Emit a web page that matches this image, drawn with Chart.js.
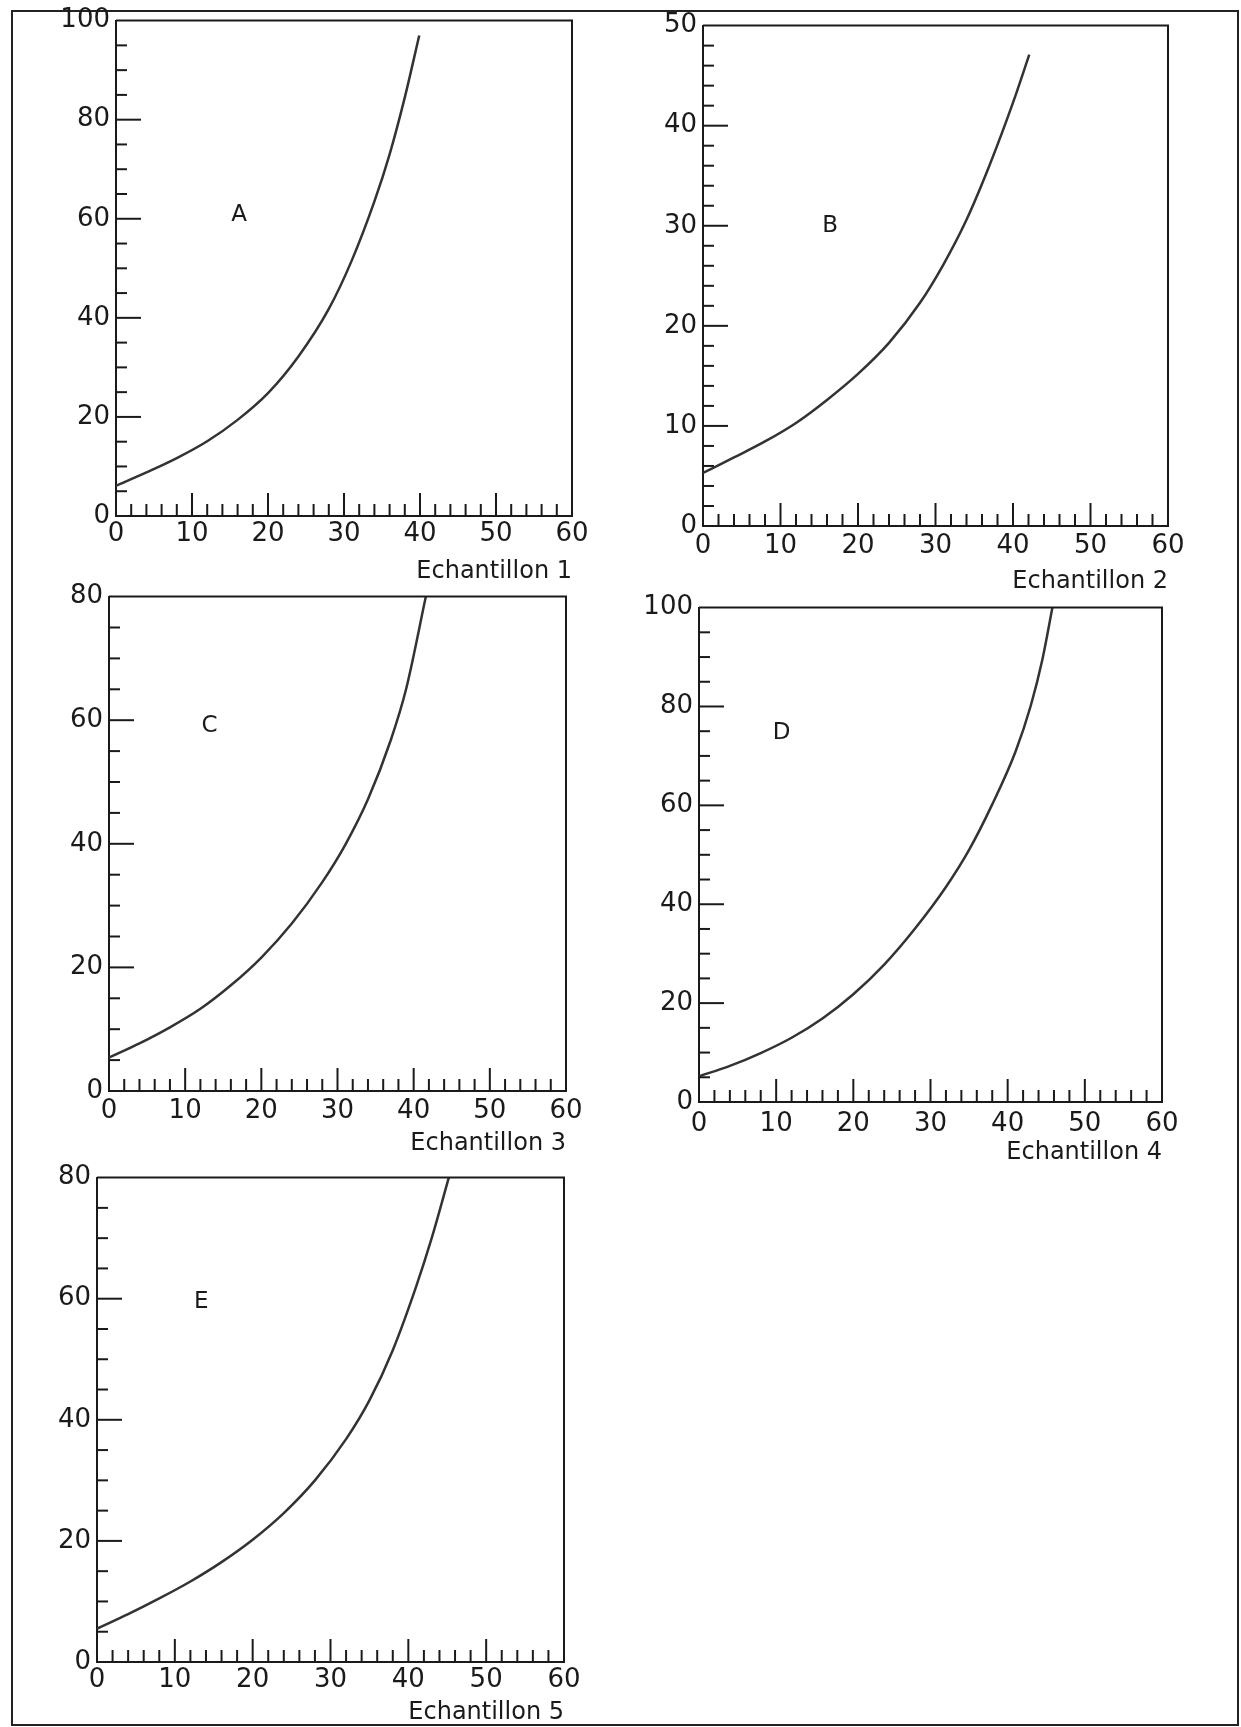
<!DOCTYPE html>
<html><head><meta charset="utf-8">
<script src="https://cdn.jsdelivr.net/npm/chart.js@4.4.1/dist/chart.umd.min.js"></script>
<style>
html,body{margin:0;padding:0;background:#fff;}
body{width:1241px;height:1727px;position:relative;overflow:hidden;}
#frame{position:absolute;left:11px;top:10px;width:1228px;height:1716px;box-sizing:border-box;border:2px solid #222;}
canvas{position:absolute;}
</style></head><body>
<div id="frame"></div>
<canvas id="c0"></canvas>
<canvas id="c1"></canvas>
<canvas id="c2"></canvas>
<canvas id="c3"></canvas>
<canvas id="c4"></canvas>
<script>
// ---- data ----
const xA = [0, 4, 8, 12, 16, 20, 24, 28, 31, 34, 36, 38, 39.9];
const yA = [6.1, 8.8, 11.7, 15.1, 19.4, 24.8, 32.2, 41.8, 51.5, 63.5, 73, 84.5, 97];
const xB = [0, 4, 8, 12, 16, 20, 24, 28, 31, 34, 37, 40, 42.1];
const yB = [5.3, 6.85, 8.45, 10.3, 12.6, 15.2, 18.3, 22.3, 26.1, 30.6, 36.1, 42.3, 47.1];
const xC = [0, 4, 8, 12, 16, 20, 24, 28, 31, 34, 37, 39, 41.6];
const yC = [5.4, 7.7, 10.3, 13.3, 17.1, 21.6, 27.1, 33.8, 39.8, 47.2, 56.8, 65, 80];
const xD = [0, 4, 8, 12, 16, 20, 24, 28, 32, 35, 38, 41, 43, 44.5, 45.8];
const yD = [5.2, 7.3, 9.9, 13, 16.9, 21.8, 27.8, 35.1, 43.5, 51, 60.2, 70.8, 80.2, 89.5, 100];
const xE = [0, 4, 8, 12, 16, 20, 24, 28, 32, 35, 38, 41, 43, 45.2];
const yE = [5.5, 7.9, 10.5, 13.3, 16.5, 20.2, 24.6, 30, 36.8, 43.2, 51.5, 62, 70, 80];

const xTicks = [0, 10, 20, 30, 40, 50, 60];
const yTicksA = [0, 20, 40, 60, 80, 100];
const yTicksB = [0, 10, 20, 30, 40, 50];
const yTicksC = [0, 20, 40, 60, 80];
const yTicksD = [0, 20, 40, 60, 80, 100];
const yTicksE = [0, 20, 40, 60, 80];

const axisTitles = ['Echantillon 1', 'Echantillon 2', 'Echantillon 3', 'Echantillon 4', 'Echantillon 5'];
const panelLetters = ['A', 'B', 'C', 'D', 'E'];
const letterX = [16.2, 16.4, 13.2, 10.7, 13.4];
const letterY = [60.7, 30, 59, 74.6, 59.5];
const yMinorSteps = [5, 2, 5, 5, 5];
const yMajorSteps = [20, 10, 20, 20, 20];

const xs = [xA, xB, xC, xD, xE];
const ys = [yA, yB, yC, yD, yE];
const yTicks = [yTicksA, yTicksB, yTicksC, yTicksD, yTicksE];

// ---- layout (page pixels of each plot area) ----
const layout = [
  {left:116, right:572, top:19, bottom:516, xh:70, xpad:3},
  {left:703, right:1168, top:24, bottom:526, xh:70, xpad:5},
  {left:109, right:566, top:595, bottom:1091, xh:67, xpad:5},
  {left:699, right:1162, top:606, bottom:1102, xh:65, xpad:7},
  {left:97, right:564, top:1176, bottom:1662, xh:65, xpad:3}
];
const YW = 90, PADT = 20, PADR = 25;
const INK = '#1a1a1a';
const FONT = 'DejaVu Sans';

const inwardTicks = {
  id: 'inwardTicks',
  afterDatasetsDraw(chart, args, opts) {
    const {ctx, chartArea: a, scales: {x, y}} = chart;
    ctx.save();
    ctx.strokeStyle = INK;
    ctx.lineWidth = 2;
    ctx.beginPath();
    ctx.moveTo(a.left, a.top); ctx.lineTo(a.right, a.top); ctx.lineTo(a.right, a.bottom);
    ctx.stroke();
    for (let v = 2; v < x.max; v += 2) {
      const px = x.getPixelForValue(v);
      const len = (v % 10 === 0) ? 23 : 12;
      ctx.beginPath(); ctx.moveTo(px, a.bottom); ctx.lineTo(px, a.bottom - len); ctx.stroke();
    }
    for (let v = opts.yMinor; v < y.max; v += opts.yMinor) {
      const py = y.getPixelForValue(v);
      const len = (v % opts.yMajor === 0) ? 25 : 11;
      ctx.beginPath(); ctx.moveTo(a.left, py); ctx.lineTo(a.left + len, py); ctx.stroke();
    }
    ctx.fillStyle = INK;
    ctx.font = '23px "' + FONT + '"';
    ctx.textAlign = 'center';
    ctx.textBaseline = 'middle';
    ctx.fillText(opts.letter, x.getPixelForValue(opts.lx), y.getPixelForValue(opts.ly));
    ctx.restore();
  }
};

function makeChart(i) {
  const L = layout[i];
  const cv = document.getElementById('c' + i);
  const W = YW + (L.right - L.left) + PADR;
  const H = PADT + (L.bottom - L.top) + L.xh;
  cv.width = W; cv.height = H;
  cv.style.width = W + 'px'; cv.style.height = H + 'px';
  cv.style.left = (L.left - YW) + 'px';
  cv.style.top = (L.top - PADT) + 'px';
  const yt = yTicks[i];
  new Chart(cv, {
    type: 'line',
    data: {
      datasets: [{
        data: xs[i].map((v, j) => ({x: v, y: ys[i][j]})),
        borderColor: '#333',
        borderWidth: 2.5,
        pointRadius: 0,
        cubicInterpolationMode: 'monotone',
        fill: false
      }]
    },
    options: {
      responsive: false,
      animation: false,
      devicePixelRatio: 1,
      layout: {padding: {top: PADT, right: PADR, left: 0, bottom: 0}},
      plugins: {
        legend: {display: false},
        tooltip: {enabled: false},
        inwardTicks: {yMinor: yMinorSteps[i], yMajor: yMajorSteps[i], letter: panelLetters[i], lx: letterX[i], ly: letterY[i]}
      },
      scales: {
        x: {
          type: 'linear', min: 0, max: 60,
          afterBuildTicks: s => { s.ticks = xTicks.map(v => ({value: v})); },
          afterFit: s => { s.height = L.xh; },
          grid: {display: true, drawOnChartArea: false, drawTicks: false},
          border: {display: true, color: INK, width: 2},
          ticks: {font: {family: FONT, size: 26}, color: INK, padding: L.xpad, maxRotation: 0, autoSkip: false},
          title: {display: true, text: axisTitles[i], align: 'end', font: {family: FONT, size: 24}, color: INK, padding: {top: 0, bottom: 0}}
        },
        y: {
          type: 'linear', min: 0, max: yt[yt.length - 1],
          afterBuildTicks: s => { s.ticks = yt.map(v => ({value: v})); },
          afterFit: s => { s.width = YW; },
          grid: {display: true, drawOnChartArea: false, drawTicks: false},
          border: {display: true, color: INK, width: 2},
          ticks: {font: {family: FONT, size: 26}, color: INK, padding: 6, autoSkip: false}
        }
      }
    },
    plugins: [inwardTicks]
  });
}
for (let i = 0; i < 5; i++) makeChart(i);
</script>
</body></html>
